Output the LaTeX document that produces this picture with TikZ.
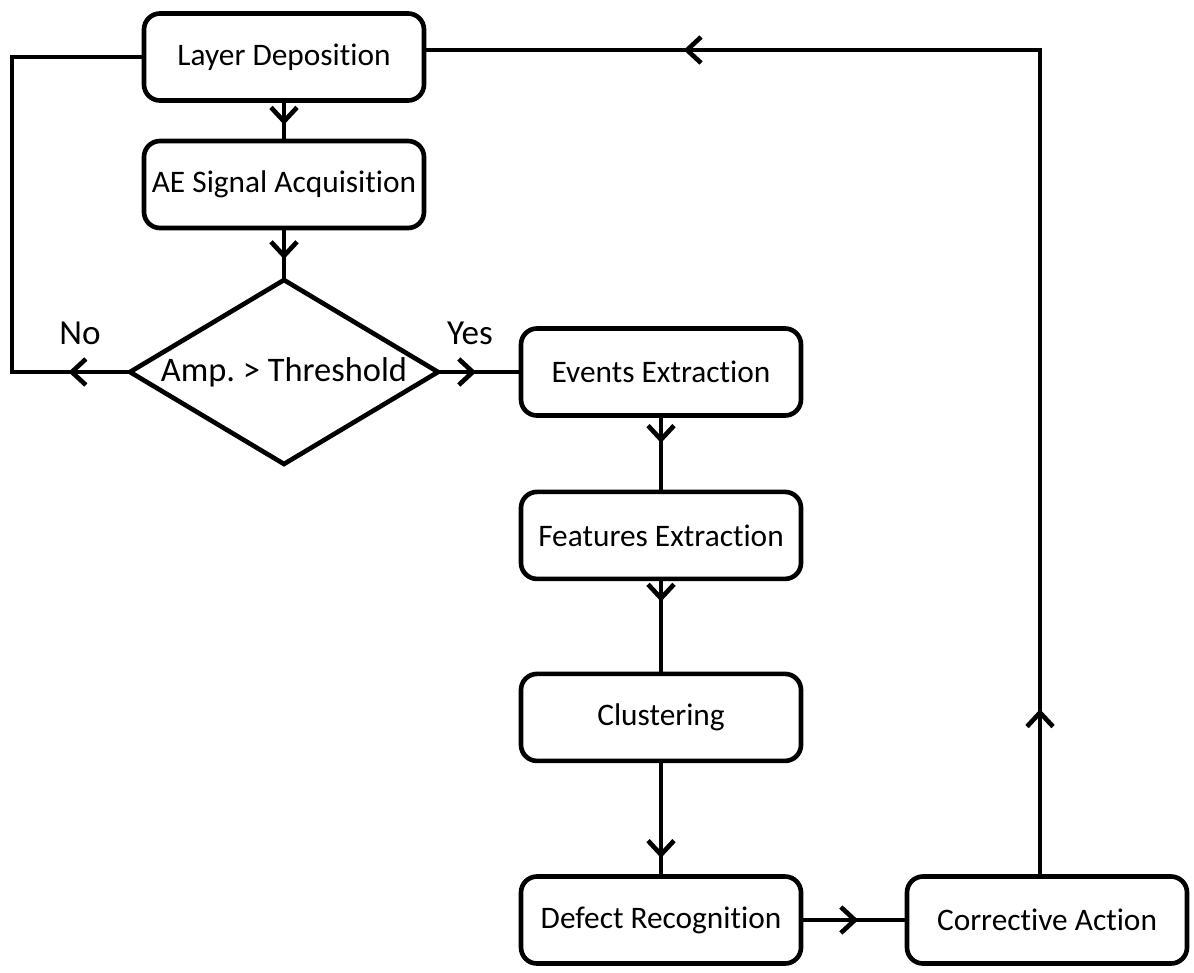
\documentclass[tikz,border=0pt]{standalone}
\usepackage{fontspec}
\setmainfont{Carlito}[Ligatures=NoCommon]
\usetikzlibrary{shapes.geometric, arrows.meta, positioning, decorations.markings}
\tikzstyle{stage} = [rectangle, draw, line width=3.3pt, outer sep=0pt, inner sep=2pt, rounded corners=0.4cm, minimum width=7cm, minimum height=2.175cm, text centered, font=\fontsize{22.3}{26}\selectfont]
\tikzstyle{check} = [diamond, draw, line width=3.3pt, outer sep=0pt, minimum width=7.7cm, minimum height=4.6cm, aspect=1.67, inner sep=0pt, text centered, font=\fontsize{24.5}{29}\selectfont]
\tikzstyle{answer} = [font=\fontsize{25}{29}\selectfont]
\tikzset{barb/.style={>={Straight Barb[length=3.5mm, width=6.5mm]}},
  cable/.style={line width=3.3pt, barb, postaction={decorate}, decoration={markings, mark=at position #1 with {\arrow{>}}}}}

\begin{document}
\begin{tikzpicture}[align=center, node distance=1cm]
  \useasboundingbox (0,0) rectangle (29.85,-24.3);
  \node (ld) [stage] at (7.1,-1.425) {Layer Deposition};
  \node (aesig) [stage, below = 1.0125cm of ld] {AE Signal Acquisition};
  \node (thr) [check, below = 1.3cm of aesig] {Amp.\ > Threshold};
  \node (events) [stage, right = 2.075cm of thr] {Events Extraction};
  \node (feat) [stage, below = 1.91cm of events] {Features Extraction};
  \node (clust) [stage, below = 2.375cm of feat] {Clustering};
  \node (defect) [stage, below = 2.89cm of clust] {Defect Recognition};
  \node (corr) [stage, right = 2.65cm of defect] {Corrective Action};
  \node (no) [answer] at ([shift={(-1.25cm,0.975cm)}]thr.west) {No};
  \node (yes) [answer] at ([shift={(0.8cm,0.975cm)}]thr.east) {Yes};
  \draw [cable=0.6] (ld) -- (aesig);
  \draw [cable=0.6] (aesig) -- (thr);
  \draw [cable=0.46] (thr) -- (events);
  \draw [cable=0.36] (events) -- (feat);
  \draw [cable=0.24] (feat) -- (clust);
  \draw [cable=0.84] (clust) -- (defect);
  \draw [cable=0.54] (defect) -- (corr);
  \draw [cable=0.109] (thr.west) -- ++(-2.95cm,0) |- (ld.west);
  \draw [line width=3.3pt, barb, postaction={decorate}, decoration={markings, mark=at position 0.116 with {\arrow{>}}, mark=at position 0.82 with {\arrow{>}}}] ([xshift=-0.175cm]corr.north) |- ([yshift=0.175cm]ld.east);
\end{tikzpicture}
\end{document}
